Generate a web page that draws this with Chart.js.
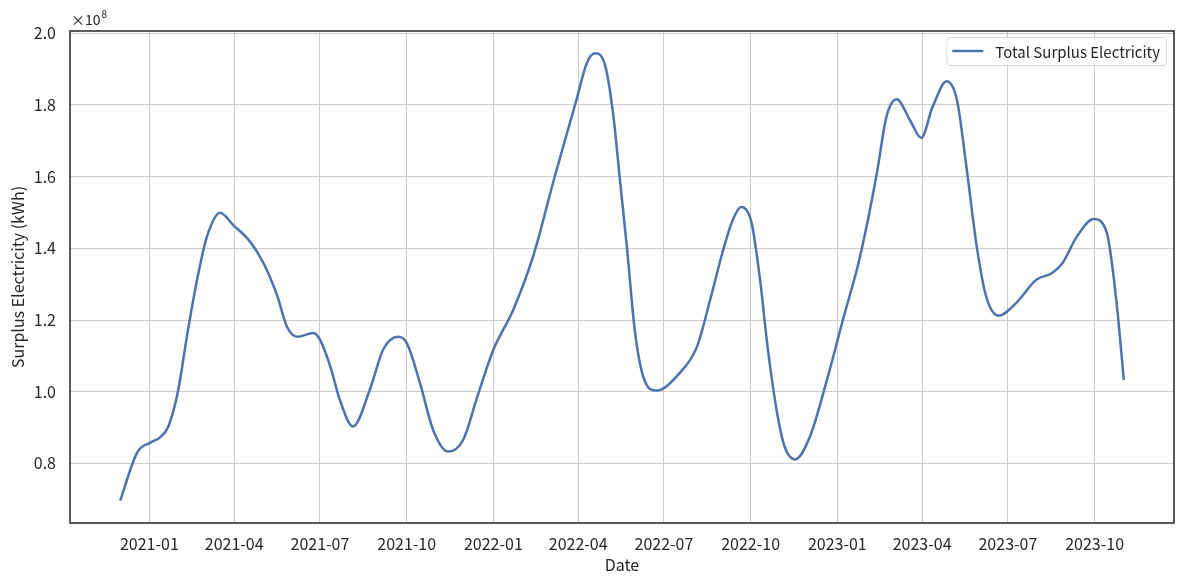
<!DOCTYPE html>
<html>
<head>
<meta charset="utf-8">
<title>Total Surplus Electricity</title>
<script src="https://cdn.jsdelivr.net/npm/chart.js@4.4.1/dist/chart.umd.min.js"></script>
<style>
  html, body { margin: 0; padding: 0; background: #fff; }
  canvas { display: block; }
</style>
</head>
<body>
<canvas id="surplusChart" width="1184" height="584"></canvas>
<script>
// Points (mostly at its turns), values in kWh
const dates = [
    '2020-12-01', '2020-12-19', '2021-01-02', '2021-01-12', '2021-01-21', '2021-01-31',
    '2021-02-11', '2021-02-22', '2021-03-03', '2021-03-17', '2021-03-31', '2021-04-18',
    '2021-05-02', '2021-05-17', '2021-05-27', '2021-06-07', '2021-06-24', '2021-07-01',
    '2021-07-12', '2021-07-22', '2021-08-05', '2021-08-23', '2021-09-06', '2021-09-22',
    '2021-10-01', '2021-10-15', '2021-10-29', '2021-11-14', '2021-11-30', '2021-12-15',
    '2022-01-01', '2022-01-22', '2022-02-12', '2022-03-07', '2022-03-31', '2022-04-10',
    '2022-04-19', '2022-04-29', '2022-05-08', '2022-05-15', '2022-05-23', '2022-05-31',
    '2022-06-09', '2022-06-23', '2022-07-18', '2022-08-05', '2022-08-19', '2022-09-01',
    '2022-09-12', '2022-09-21', '2022-10-02', '2022-10-11', '2022-10-19', '2022-10-29',
    '2022-11-06', '2022-11-17', '2022-12-03', '2022-12-21', '2023-01-07', '2023-01-25',
    '2023-02-12', '2023-02-22', '2023-03-05', '2023-03-19', '2023-03-31', '2023-04-12',
    '2023-04-27', '2023-05-08', '2023-05-18', '2023-05-29', '2023-06-08', '2023-06-21',
    '2023-07-10', '2023-07-31', '2023-08-17', '2023-08-28', '2023-09-12', '2023-09-30',
    '2023-10-14', '2023-10-24', '2023-11-01'
];
const surplus = [
    0.696e8, 0.830e8, 0.858e8, 0.872e8, 0.902e8, 0.997e8,
    1.173e8, 1.331e8, 1.432e8, 1.499e8, 1.465e8, 1.418e8,
    1.359e8, 1.265e8, 1.181e8, 1.153e8, 1.164e8, 1.145e8,
    1.070e8, 0.978e8, 0.903e8, 1.006e8, 1.117e8, 1.153e8,
    1.136e8, 1.025e8, 0.894e8, 0.833e8, 0.866e8, 0.986e8,
    1.117e8, 1.228e8, 1.376e8, 1.599e8, 1.822e8, 1.916e8,
    1.944e8, 1.916e8, 1.777e8, 1.599e8, 1.396e8, 1.173e8,
    1.042e8, 1.003e8, 1.053e8, 1.125e8, 1.256e8, 1.387e8,
    1.479e8, 1.515e8, 1.471e8, 1.312e8, 1.125e8, 0.942e8,
    0.847e8, 0.811e8, 0.875e8, 1.033e8, 1.201e8, 1.376e8,
    1.610e8, 1.766e8, 1.816e8, 1.758e8, 1.708e8, 1.794e8,
    1.866e8, 1.813e8, 1.627e8, 1.404e8, 1.265e8, 1.212e8,
    1.248e8, 1.312e8, 1.331e8, 1.359e8, 1.432e8, 1.482e8,
    1.443e8, 1.256e8, 1.033e8
];
const xTickLabels = ['2021-01', '2021-04', '2021-07', '2021-10', '2022-01', '2022-04',
    '2022-07', '2022-10', '2023-01', '2023-04', '2023-07', '2023-10'];
const yTickValues = [0.8e8, 1.0e8, 1.2e8, 1.4e8, 1.6e8, 1.8e8, 2.0e8];
const seriesName = 'Total Surplus Electricity';

const FONT = "'Noto Sans CJK KR', 'Noto Sans', sans-serif";
const TEXT = '#262626';
const LINE = '#4c72b0';

function toTime(s) {
    const p = s.split('-').map(Number);
    return Date.UTC(p[0], p[1] - 1, p[2] || 1);
}

// matplotlib-like 5% margins around the data
function padRange(values) {
    const lo = Math.min(...values), hi = Math.max(...values);
    const m = (hi - lo) * 0.05;
    return { min: lo - m, max: hi + m };
}

const times = dates.map(toTime);
const xRange = padRange(times);
const yRange = padRange(surplus);

// dark frame on all four sides + x10^8 offset text
const framePlugin = {
    id: 'frame',
    afterDraw(chart) {
        const { ctx, chartArea: a } = chart;
        ctx.save();
        ctx.strokeStyle = '#333333';
        ctx.lineWidth = 1.6;
        ctx.strokeRect(a.left, a.top, a.right - a.left, a.bottom - a.top);

        ctx.fillStyle = TEXT;
        ctx.textBaseline = 'alphabetic';
        ctx.font = '14px ' + FONT;
        ctx.fillText('\u00d710', a.left + 1, a.top - 6);
        const w = ctx.measureText('\u00d710').width;
        ctx.font = '10px ' + FONT;
        ctx.fillText('8', a.left + 1 + w + 1, a.top - 13);
        ctx.restore();
    }
};

// boxed legend in the upper right corner
const legendPlugin = {
    id: 'boxLegend',
    afterDraw(chart) {
        const { ctx, chartArea: a } = chart;
        ctx.save();
        ctx.font = '15px ' + FONT;
        const tw = ctx.measureText(seriesName).width;
        const lineLen = 31, gap = 12, padX = 6;
        const bw = padX + lineLen + gap + tw + padX;
        const bh = 28;
        const bx = a.right - 8 - bw;
        const by = a.top + 6;
        ctx.beginPath();
        ctx.roundRect(bx + 0.5, by + 0.5, bw, bh, 3);
        ctx.fillStyle = 'rgba(255,255,255,0.85)';
        ctx.fill();
        ctx.strokeStyle = '#d6d6d6';
        ctx.lineWidth = 1;
        ctx.stroke();

        const cy = by + bh / 2;
        ctx.beginPath();
        ctx.moveTo(bx + padX, cy);
        ctx.lineTo(bx + padX + lineLen, cy);
        ctx.strokeStyle = LINE;
        ctx.lineWidth = 2.5;
        ctx.stroke();

        ctx.fillStyle = TEXT;
        ctx.textBaseline = 'middle';
        ctx.fillText(seriesName, bx + padX + lineLen + gap, cy + 1);
        ctx.restore();
    }
};

Chart.defaults.font.family = FONT;
Chart.defaults.color = TEXT;

new Chart(document.getElementById('surplusChart'), {
    type: 'line',
    data: {
        datasets: [{
            label: seriesName,
            data: times.map((t, i) => ({ x: t, y: surplus[i] })),
            borderColor: LINE,
            borderWidth: 2.5,
            pointRadius: 0,
            fill: false,
            cubicInterpolationMode: 'monotone'
        }]
    },
    options: {
        responsive: false,
        animation: false,
        devicePixelRatio: 1,
        layout: { padding: { left: 0, top: 31, right: 10, bottom: 0 } },
        plugins: {
            legend: { display: false },
            tooltip: { enabled: false }
        },
        scales: {
            x: {
                type: 'linear',
                min: xRange.min,
                max: xRange.max,
                afterBuildTicks(scale) {
                    scale.ticks = xTickLabels.map(l => ({ value: toTime(l) }));
                },
                afterFit(scale) { scale.height = 61; },
                ticks: {
                    autoSkip: false,
                    maxRotation: 0,
                    padding: 11,
                    font: { size: 16 },
                    callback: v => new Date(v).toISOString().slice(0, 7)
                },
                grid: { color: '#cccccc', lineWidth: 1, drawTicks: false },
                border: { display: false },
                title: {
                    display: true,
                    text: 'Date',
                    font: { size: 16 },
                    padding: { top: 0, bottom: 9 }
                }
            },
            y: {
                min: yRange.min,
                max: yRange.max,
                afterBuildTicks(scale) {
                    scale.ticks = yTickValues.map(v => ({ value: v }));
                },
                afterFit(scale) { scale.width = 70; },
                ticks: {
                    padding: 14,
                    font: { size: 16 },
                    callback: v => (v / 1e8).toFixed(1)
                },
                grid: { color: '#cccccc', lineWidth: 1, drawTicks: false },
                border: { display: false },
                title: {
                    display: true,
                    text: 'Surplus Electricity (kWh)',
                    font: { size: 16 },
                    padding: { top: 8, bottom: 0 }
                }
            }
        }
    },
    plugins: [framePlugin, legendPlugin]
});
</script>
</body>
</html>
